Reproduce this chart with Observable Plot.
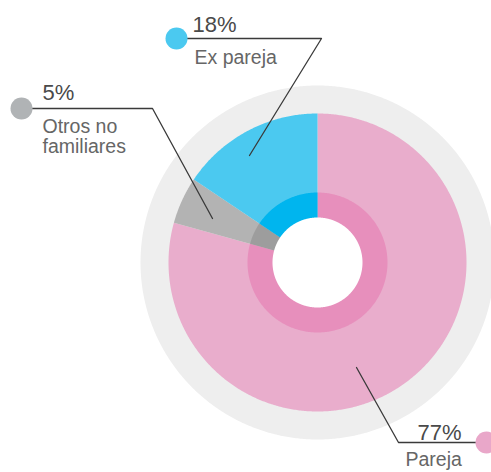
<!DOCTYPE html>
<html><head><meta charset="utf-8">
<script src="https://cdn.jsdelivr.net/npm/d3@7"></script>
<script src="https://cdn.jsdelivr.net/npm/@observablehq/plot@0.6"></script>
<style>html,body{margin:0;padding:0;background:#fff}svg{display:block}</style>
</head><body><div id="chart"></div><script>
// ---- data ----
const categories = ["Pareja", "Otros no familiares", "Ex pareja"];
const shares = [79.3, 5.1, 15.6];          // arc sizes as drawn
const percentLabels = ["77%", "5%", "18%"]; // printed labels
const nameLines = [["Pareja"], ["Otros no", "familiares"], ["Ex pareja"]];

// ---- styles ----
const outerColors = ["#e9adcc", "#b3b3b3", "#4bc9f0"];
const innerColors = ["#e78fbc", "#9d9d9d", "#00b5ee"];
const dotColors = ["#e9a7c9", "#b0b3b5", "#4bc9f0"];
const R = {ring: 177, pie: 149, inner: 70, hole: 45};

// annotation layout (pixel positions converted to centered data coords)
const cx = 317, cy = 262, W = 491, H = 472;
const P = (px, py) => [px - cx, cy - py];
const layout = [
  {tip: P(356, 367), elbow: P(398, 442), dot: P(486, 442), pct: P(417, 439), name: P(405, 465), nameStep: 20},
  {tip: P(212, 218), elbow: P(152, 108), dot: P(21, 108), pct: P(42, 99), name: P(42, 132), nameStep: 20},
  {tip: P(249, 155), elbow: P(321, 38), dot: P(176, 38), pct: P(192, 31), name: P(194, 63), nameStep: 20}
];

// ---- geometry ----
function arcPoly(a0, a1, r0, r1, key) {
  const pts = [];
  const n = Math.max(8, Math.ceil((a1 - a0) / 0.5));
  for (let i = 0; i <= n; i++) {
    const a = (a0 + (a1 - a0) * i / n) * Math.PI / 180;
    pts.push({x: r1 * Math.sin(a), y: r1 * Math.cos(a), key});
  }
  for (let i = n; i >= 0; i--) {
    const a = (a0 + (a1 - a0) * i / n) * Math.PI / 180;
    pts.push({x: r0 * Math.sin(a), y: r0 * Math.cos(a), key});
  }
  return pts;
}
const total = d3.sum(shares);
let acc = 0;
const slices = shares.map((v, i) => {
  const a0 = acc / total * 360; acc += v;
  return {i, a0, a1: acc / total * 360};
});
const disk = (r, key) => arcPoly(0, 360, 0, r, key);

const marks = [];
marks.push(Plot.line(disk(R.ring, "ring"), {x: "x", y: "y", fill: "#eeeeee", stroke: "none", curve: "linear-closed"}));
slices.forEach(s => {
  marks.push(Plot.line(arcPoly(s.a0, s.a1, 0, R.pie, "o" + s.i), {x: "x", y: "y", fill: outerColors[s.i], stroke: "none", curve: "linear-closed"}));
});
slices.forEach(s => {
  marks.push(Plot.line(arcPoly(s.a0, s.a1, 0, R.inner, "i" + s.i), {x: "x", y: "y", fill: innerColors[s.i], stroke: "none", curve: "linear-closed"}));
});
marks.push(Plot.line(disk(R.hole, "hole"), {x: "x", y: "y", fill: "#ffffff", stroke: "none", curve: "linear-closed"}));

// leaders
categories.forEach((c, i) => {
  const L = layout[i];
  const pts = [L.tip, L.elbow, L.dot].map(p => ({x: p[0], y: p[1]}));
  marks.push(Plot.line(pts, {x: "x", y: "y", stroke: "#3a3a3a", strokeWidth: 1.3}));
  marks.push(Plot.dot([{x: L.dot[0], y: L.dot[1]}], {x: "x", y: "y", r: 11, fill: dotColors[i], stroke: "none"}));
  marks.push(Plot.text([percentLabels[i]], {x: () => L.pct[0], y: () => L.pct[1], text: d => d, textAnchor: "start", lineAnchor: "bottom", fontSize: 22, fill: "#4a4a4a", fontFamily: "Liberation Sans, Arial, sans-serif"}));
  nameLines[i].forEach((t, k) => {
    marks.push(Plot.text([t], {x: () => L.name[0], y: () => L.name[1] - k * L.nameStep, text: d => d, textAnchor: "start", lineAnchor: "bottom", fontSize: 19.5, fill: "#666666", fontFamily: "Liberation Sans, Arial, sans-serif"}));
  });
});

const chart = Plot.plot({
  width: W, height: H,
  margin: 0,
  x: {domain: [-cx, W - cx], axis: null},
  y: {domain: [cy - H, cy], axis: null},
  style: {background: "#fff", overflow: "visible"},
  marks
});
document.getElementById("chart").appendChild(chart);
</script></body></html>
